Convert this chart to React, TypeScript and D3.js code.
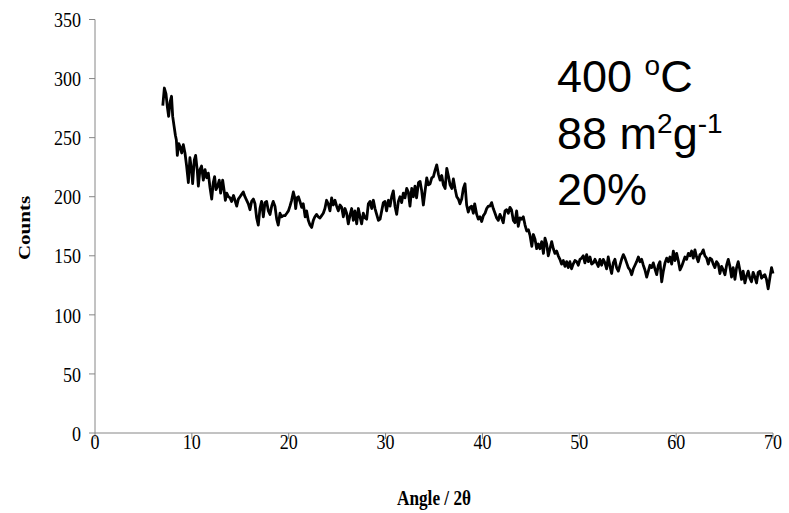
import React from "react";
import * as d3 from "d3";

const angle: number[] = [
  7.0, 7.16, 7.33, 7.47, 7.6, 7.75, 7.9, 8.02, 8.16, 8.3, 8.4, 8.5, 8.65, 8.8, 8.95, 9.12, 9.29, 9.46, 9.64, 9.8,
  9.98, 10.08, 10.25, 10.39, 10.56, 10.67, 10.84, 11.0, 11.18, 11.36, 11.53, 11.7, 11.87, 12.05, 12.21, 12.35, 12.49, 12.66, 12.83, 12.97,
  13.18, 13.32, 13.46, 13.6, 13.77, 13.95, 14.1, 14.3, 14.45, 14.63, 14.8, 14.97, 15.14, 15.31, 15.48, 15.66, 15.83, 16.0, 16.17, 16.35,
  16.52, 16.69, 16.86, 17.03, 17.2, 17.38, 17.55, 17.72, 17.9, 18.07, 18.24, 18.4, 18.58, 18.76, 18.92, 19.1, 19.27, 19.45, 19.62, 19.8,
  19.97, 20.13, 20.3, 20.48, 20.6, 20.72, 20.85, 21.0, 21.16, 21.34, 21.5, 21.7, 21.85, 22.02, 22.2, 22.37, 22.54, 22.7, 22.88, 23.05,
  23.23, 23.4, 23.57, 23.74, 23.91, 24.08, 24.26, 24.43, 24.6, 24.78, 24.95, 25.12, 25.3, 25.47, 25.64, 25.81, 25.98, 26.15, 26.32, 26.5,
  26.67, 26.84, 27.02, 27.19, 27.36, 27.53, 27.7, 27.88, 28.05, 28.22, 28.4, 28.57, 28.74, 28.91, 29.08, 29.26, 29.43, 29.6, 29.77, 29.94,
  30.1, 30.3, 30.46, 30.63, 30.8, 30.97, 31.15, 31.32, 31.49, 31.66, 31.83, 32.0, 32.18, 32.35, 32.52, 32.7, 32.87, 33.04, 33.2, 33.4,
  33.56, 33.73, 33.9, 34.08, 34.25, 34.42, 34.6, 34.77, 34.94, 35.1, 35.28, 35.46, 35.63, 35.8, 35.97, 36.15, 36.32, 36.5, 36.66, 36.84,
  37.0, 37.17, 37.35, 37.52, 37.68, 37.86, 38.03, 38.2, 38.37, 38.54, 38.71, 38.88, 39.06, 39.2, 39.41, 39.57, 39.75, 39.92, 40.1, 40.27,
  40.44, 40.6, 40.78, 40.95, 41.12, 41.3, 41.47, 41.64, 41.81, 41.98, 42.15, 42.33, 42.5, 42.67, 42.84, 43.0, 43.19, 43.36, 43.53, 43.7,
  43.87, 44.05, 44.22, 44.4, 44.57, 44.75, 44.92, 45.1, 45.26, 45.43, 45.6, 45.77, 45.94, 46.12, 46.3, 46.46, 46.63, 46.8, 46.97, 47.15,
  47.32, 47.49, 47.66, 47.83, 48.0, 48.17, 48.35, 48.52, 48.69, 48.86, 49.03, 49.2, 49.37, 49.55, 49.73, 49.9, 50.07, 50.24, 50.41, 50.58,
  50.76, 50.93, 51.11, 51.27, 51.45, 51.62, 51.79, 51.96, 52.13, 52.3, 52.48, 52.65, 52.82, 52.99, 53.17, 53.34, 53.51, 53.68, 53.85, 54.03,
  54.2, 54.37, 54.55, 54.72, 54.89, 55.06, 55.24, 55.41, 55.58, 55.75, 55.92, 56.1, 56.27, 56.44, 56.61, 56.78, 56.96, 57.13, 57.3, 57.47,
  57.64, 57.81, 57.99, 58.16, 58.33, 58.51, 58.68, 58.85, 59.02, 59.19, 59.36, 59.54, 59.71, 59.88, 60.05, 60.22, 60.4, 60.57, 60.74, 60.91,
  61.08, 61.26, 61.43, 61.6, 61.77, 61.94, 62.11, 62.28, 62.46, 62.63, 62.8, 62.97, 63.15, 63.32, 63.49, 63.66, 63.83, 64.0, 64.17, 64.35,
  64.52, 64.69, 64.86, 65.04, 65.21, 65.38, 65.55, 65.72, 65.89, 66.07, 66.24, 66.41, 66.58, 66.75, 66.92, 67.1, 67.27, 67.44, 67.61, 67.78,
  67.95, 68.13, 68.3, 68.47, 68.65, 68.82, 68.99, 69.16, 69.33, 69.5, 69.67, 69.85, 70.0,
];

const counts: number[] = [
  277, 292, 287, 276, 268, 280, 285, 268, 260, 252, 248, 235, 245, 242, 237, 244, 237, 226, 212, 233,
  222, 211, 231, 235, 222, 209, 223, 226, 214, 223, 216, 220, 208, 198, 212, 217, 206, 209, 214, 203,
  214, 206, 197, 203, 200, 199, 196, 201, 197, 192, 198, 200, 202, 204, 200, 197, 194, 189, 196, 198,
  194, 182, 176, 190, 196, 183, 195, 196, 188, 185, 192, 196, 192, 181, 176, 186, 183, 184, 184, 186,
  188, 192, 197, 204, 200, 190, 199, 200, 196, 191, 194, 183, 188, 180, 176, 174, 180, 183, 185, 183,
  182, 184, 186, 190, 197, 194, 188, 199, 193, 197, 192, 188, 193, 191, 183, 190, 186, 177, 184, 190,
  180, 188, 177, 190, 183, 177, 186, 182, 181, 194, 196, 190, 197, 190, 185, 180, 181, 188, 195, 196,
  188, 197, 192, 200, 205, 192, 185, 196, 200, 195, 203, 199, 207, 204, 192, 207, 200, 209, 199, 212,
  213, 205, 193, 205, 216, 210, 211, 216, 217, 222, 227, 219, 214, 218, 210, 207, 224, 217, 210, 207,
  215, 207, 200, 198, 194, 198, 207, 211, 193, 187, 191, 192, 186, 194, 185, 181, 183, 179, 184, 186,
  190, 192, 192, 195, 190, 186, 182, 180, 185, 182, 178, 188, 189, 186, 191, 189, 180, 178, 188, 175,
  182, 181, 183, 176, 171, 172, 167, 158, 168, 164, 156, 160, 156, 162, 152, 165, 160, 150, 156, 162,
  156, 152, 154, 150, 147, 143, 146, 141, 145, 140, 145, 139, 143, 146, 145, 142, 147, 148, 150, 144,
  151, 145, 149, 143, 144, 147, 144, 141, 147, 142, 147, 144, 139, 149, 141, 135, 144, 147, 140, 137,
  142, 147, 151, 148, 144, 140, 138, 134, 139, 142, 145, 149, 145, 147, 142, 138, 132, 137, 142, 140,
  144, 139, 134, 142, 145, 128, 137, 144, 148, 145, 149, 143, 154, 146, 152, 146, 138, 141, 145, 149,
  147, 152, 150, 154, 148, 155, 149, 145, 151, 152, 155, 150, 148, 143, 148, 147, 143, 140, 145, 143,
  135, 141, 138, 134, 142, 147, 141, 132, 140, 130, 140, 145, 138, 130, 137, 127, 133, 137, 131, 128,
  136, 132, 127, 136, 137, 131, 133, 134, 130, 122, 131, 140, 135,
];

const xTicks: number[] = [0, 10, 20, 30, 40, 50, 60, 70];
const yTicks: number[] = [0, 50, 100, 150, 200, 250, 300, 350];

const SQ = 0.82;

export default function App() {
  const x = d3.scaleLinear().domain([0, 70]).range([95, 773]);
  const y = d3.scaleLinear().domain([0, 350]).range([433, 19.5]);
  const pts = angle.map((a, i) => [a, counts[i]] as [number, number]);
  const line = d3
    .line<[number, number]>()
    .x((d) => x(d[0]))
    .y((d) => y(d[1]));
  const axisColor = "#868686";
  const serif = "'Liberation Serif', 'Times New Roman', serif";
  const sans = "'Liberation Sans', Arial, sans-serif";

  return (
    <svg
      width={789}
      height={513}
      style={{ position: "absolute", left: 0, top: 0, background: "#fff" }}
    >
      {/* axes */}
      <line x1={x(0)} x2={x(0)} y1={y(350)} y2={y(0)} stroke={axisColor} strokeWidth={1} />
      <line x1={x(0)} x2={x(70)} y1={y(0)} y2={y(0)} stroke={axisColor} strokeWidth={1} />
      {yTicks.map((t) => (
        <g key={"y" + t}>
          <line x1={x(0) - 6} x2={x(0)} y1={y(t)} y2={y(t)} stroke={axisColor} strokeWidth={1} />
          <text
            transform={`translate(81,${y(t)}) scale(${SQ},1)`}
            dy="0.35em"
            textAnchor="end"
            fontFamily={serif}
            fontSize={22}
            fill="#000"
          >
            {t}
          </text>
        </g>
      ))}
      {xTicks.map((t) => (
        <g key={"x" + t}>
          <line x1={x(t)} x2={x(t)} y1={y(0)} y2={y(0) + 6} stroke={axisColor} strokeWidth={1} />
          <text
            transform={`translate(${x(t)},449) scale(${SQ},1)`}
            textAnchor="middle"
            fontFamily={serif}
            fontSize={22}
            fill="#000"
          >
            {t}
          </text>
        </g>
      ))}
      <text
        transform={`translate(434,505) scale(${SQ},1)`}
        textAnchor="middle"
        fontFamily={serif}
        fontSize={21}
        fontWeight="bold"
        fill="#000"
      >
        Angle / 2θ
      </text>
      <text
        transform={`translate(30,228) scale(${SQ},1) rotate(-90)`}
        textAnchor="middle"
        fontFamily={serif}
        fontSize={21}
        fontWeight="bold"
        fill="#000"
      >
        Counts
      </text>

      {/* data line */}
      <path d={line(pts) || ""} fill="none" stroke="#000" strokeWidth={2.8} strokeLinejoin="round" />

      {/* annotations */}
      <g fontFamily={sans} fontSize={45} fill="#000">
        <text x={557} y={92}>
          400 <tspan fontSize={28} dy={-17}>o</tspan>
          <tspan dy={17}>C</tspan>
        </text>
        <text x={557} y={149}>
          88 m<tspan fontSize={28} dy={-16}>2</tspan>
          <tspan dy={16}>g</tspan>
          <tspan fontSize={28} dy={-16}>-1</tspan>
        </text>
        <text x={557} y={205}>
          20%
        </text>
      </g>
    </svg>
  );
}
